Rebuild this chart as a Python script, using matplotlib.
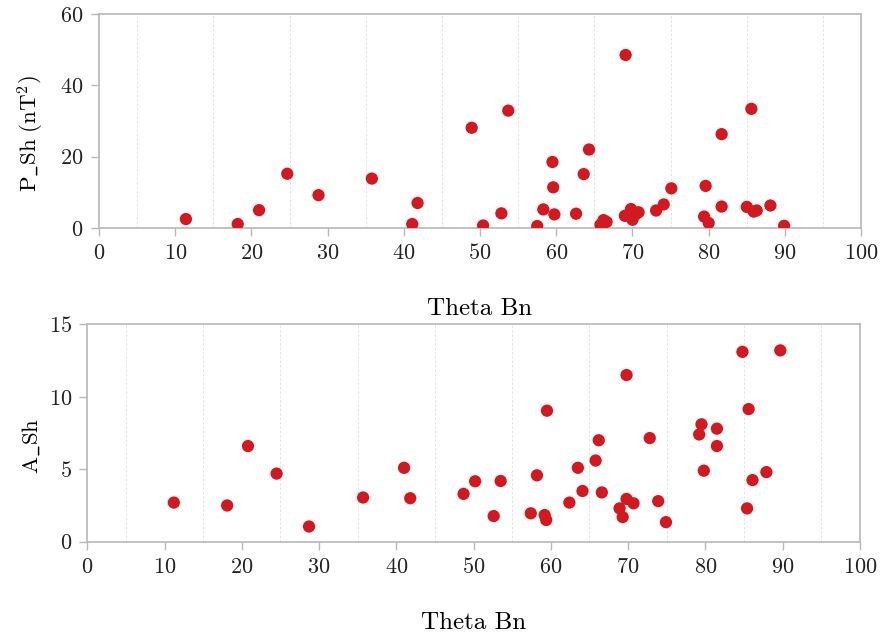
import numpy as np
import matplotlib
matplotlib.use('Agg')
import matplotlib.pyplot as plt

# Computer Modern look
plt.rcParams['font.family'] = ['cmr10', 'DejaVu Serif']
plt.rcParams['mathtext.fontset'] = 'cm'
plt.rcParams['axes.formatter.use_mathtext'] = True

# Upper panel: Theta Bn vs P_Sh
theta_p = [11.4, 18.2, 21.0, 24.7, 28.8, 35.8, 41.1, 41.8,
           48.9, 50.4, 52.8, 53.7, 57.5, 58.3, 59.5, 59.6, 59.75, 62.6, 63.6, 64.3,
           65.8, 66.2, 66.6, 69.1, 69.0, 69.8, 70.0, 70.4, 70.8,
           73.1, 74.1, 75.1, 79.4, 79.6, 80.0, 81.7, 81.7,
           85.0, 85.6, 85.9, 86.3, 88.1, 89.9]
p_sh = [2.5, 1.1, 5.0, 15.2, 9.2, 13.85, 1.1, 7.0,
        28.1, 0.7, 4.1, 32.9, 0.55, 5.2, 18.5, 11.4, 3.8, 4.0, 15.1, 22.0,
        0.9, 2.2, 1.7, 48.5, 3.4, 5.3, 2.3, 3.8, 4.4,
        4.9, 6.6, 11.1, 3.2, 11.8, 1.4, 26.3, 6.0,
        5.9, 33.4, 4.6, 4.9, 6.3, 0.6]

# Lower panel: Theta Bn vs A_Sh
theta_a = [11.2, 18.1, 20.8, 24.5, 28.7, 35.7, 41.0, 41.8,
           48.7, 50.2, 52.6, 53.5, 57.4, 58.2, 59.2, 59.4, 59.5,
           62.4, 63.5, 64.1, 65.8, 66.2, 66.6, 68.9, 69.3, 69.8, 69.8, 70.7,
           72.8, 73.9, 74.9, 79.2, 79.5, 79.8, 81.5, 81.5,
           84.8, 85.4, 85.6, 86.1, 87.9, 89.7]
a_sh = [2.7, 2.5, 6.6, 4.7, 1.05, 3.05, 5.1, 3.0,
        3.3, 4.17, 1.77, 4.19, 1.96, 4.58, 1.84, 1.5, 9.04,
        2.7, 5.1, 3.5, 5.6, 7.0, 3.4, 2.3, 1.7, 11.5, 2.95, 2.65,
        7.15, 2.8, 1.35, 7.4, 8.1, 4.9, 7.8, 6.6,
        13.1, 2.3, 9.15, 4.25, 4.8, 13.2]

xticks = [0, 10, 20, 30, 40, 50, 60, 70, 80, 90, 100]
xgrid = [5, 15, 25, 35, 45, 55, 65, 75, 85, 95]
red = '#d3181f'
edge = '#b8b8b8'

fig = plt.figure(figsize=(8.81, 6.35), dpi=100)
ax1 = fig.add_axes([0.1124, 0.641, 0.865, 0.337])
ax2 = fig.add_axes([0.0991, 0.1469, 0.8769, 0.3424])


def style(ax, yticks, ygrid, ylabel, label_x):
    ax.set_xlim(0, 100)
    ax.set_ylim(yticks[0], yticks[-1])
    ax.set_xticks(xticks)
    ax.set_yticks(yticks)
    ax.set_xticks(xgrid, minor=True)
    ax.set_yticks(ygrid, minor=True)
    ax.grid(False)
    ax.grid(True, which='minor', color='#e2e2e2', linestyle=(0, (2.5, 2)), linewidth=0.7)
    ax.tick_params(which='minor', length=0)
    ax.tick_params(which='major', direction='out', length=6, width=1, color=edge,
                   labelsize=16, labelcolor='#222222', pad=5)
    for s in ax.spines.values():
        s.set_color(edge)
        s.set_linewidth(1.2)
    ax.set_xlabel('Theta Bn', fontsize=18, labelpad=25)
    ax.set_ylabel(ylabel, fontsize=16.5)
    ax.yaxis.set_label_coords(label_x, 0.44)
    ax.set_axisbelow(True)


ax1.scatter(theta_p, p_sh, s=78, color=red, edgecolors='none', zorder=3)
ax2.scatter(theta_a, a_sh, s=78, color=red, edgecolors='none', zorder=3)

style(ax1, [0, 20, 40, 60], [0, 40, 60], r'$\mathrm{P\_Sh\ (nT^2)}$', -0.069)
style(ax2, [0, 5, 10, 15], [0, 10, 15], r'$\mathrm{A\_Sh}$', -0.059)

fig.savefig('out.png', dpi=100)
